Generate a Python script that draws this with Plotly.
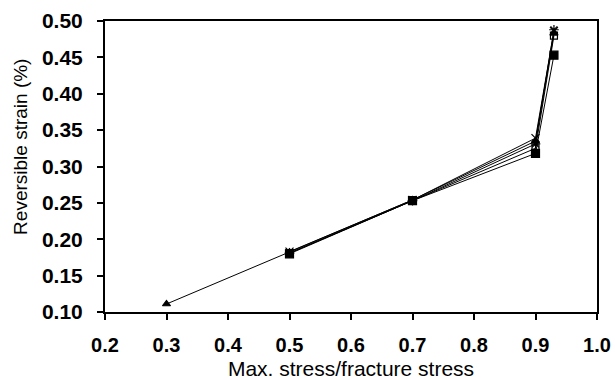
import plotly.graph_objects as go

# Data
x_tri = [0.3, 0.5, 0.7, 0.9, 0.93]
y_tri = [0.111, 0.182, 0.254, 0.335, 0.483]

x_sq = [0.5, 0.7, 0.9, 0.93]
y_sq = [0.180, 0.253, 0.318, 0.453]

x_x = [0.5, 0.7, 0.9, 0.93]
y_x = [0.183, 0.254, 0.339, 0.486]

x_star = [0.5, 0.7, 0.9, 0.93]
y_star = [0.181, 0.253, 0.331, 0.488]

x_osq = [0.5, 0.7, 0.9, 0.93]
y_osq = [0.181, 0.253, 0.325, 0.480]

x_ticks = [0.2, 0.3, 0.4, 0.5, 0.6, 0.7, 0.8, 0.9, 1.0]
y_ticks = [0.10, 0.15, 0.20, 0.25, 0.30, 0.35, 0.40, 0.45, 0.50]

x_title = "Max. stress/fracture stress"
y_title = "Reversible strain (%)"

series = [
    (x_osq, y_osq, "square-open", 7),
    (x_star, y_star, "asterisk-open", 8),
    (x_x, y_x, "x-thin-open", 8),
    (x_tri, y_tri, "triangle-up", 7),
    (x_sq, y_sq, "square", 8),
]

fig = go.Figure()
for xs, ys, sym, sz in series:
    fig.add_trace(go.Scatter(
        x=xs, y=ys, mode="lines+markers",
        line=dict(color="black", width=1),
        marker=dict(symbol=sym, size=sz, color="black",
                    line=dict(color="black", width=1.2)),
        showlegend=False,
        cliponaxis=False,
    ))

font_family = "Liberation Sans, Arial, sans-serif"
fig.update_layout(
    width=615, height=380,
    margin=dict(l=105, r=18, t=21, b=68),
    paper_bgcolor="white", plot_bgcolor="white",
    font=dict(family=font_family, color="black"),
)
fig.update_xaxes(
    range=[0.2, 1.0], tickvals=x_ticks, ticktext=[f"{v:.1f}" for v in x_ticks],
    showgrid=False, zeroline=False, automargin=False,
    showline=True, linecolor="black", linewidth=2, mirror=True,
    ticks="outside", ticklen=6, tickwidth=2, tickcolor="black",
    ticklabelstandoff=8,
    tickfont=dict(size=20, family=font_family, weight="bold"),
    title=dict(text=x_title, font=dict(size=21), standoff=6),
)
fig.update_yaxes(
    range=[0.10, 0.50], tickvals=y_ticks, ticktext=[f"{v:.2f}" for v in y_ticks],
    showgrid=False, zeroline=False, automargin=False,
    showline=True, linecolor="black", linewidth=2, mirror=True,
    ticks="outside", ticklen=6, tickwidth=2, tickcolor="black",
    ticklabelstandoff=10,
    tickfont=dict(size=21, family=font_family, weight="bold"),
)
fig.add_annotation(
    text=y_title, textangle=-90, showarrow=False,
    xref="paper", yref="paper", x=-0.173, y=0.567,
    xanchor="center", yanchor="middle",
    font=dict(size=19, family=font_family, color="black"),
)

fig.write_html("out.html")
